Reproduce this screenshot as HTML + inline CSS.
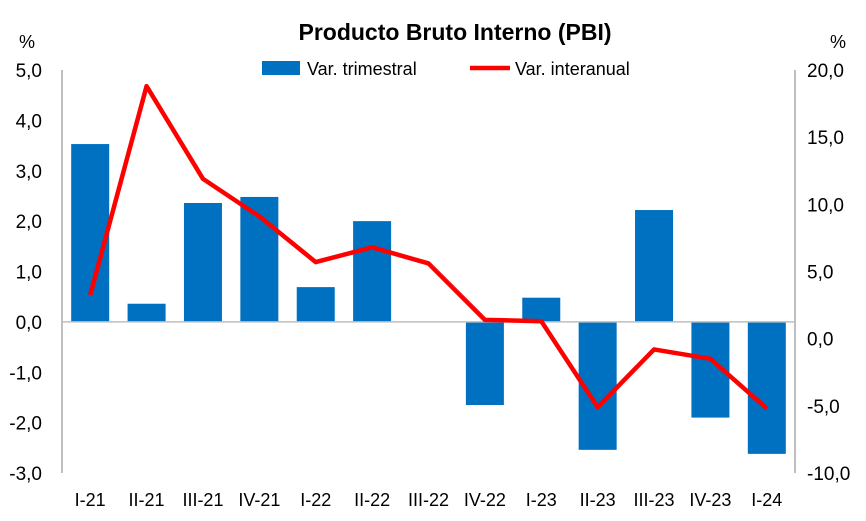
<!DOCTYPE html>
<html><head><meta charset="utf-8">
<style>
body{margin:0;background:#fff;}
svg{display:block;font-family:"Liberation Sans",Calibri,sans-serif;}
</style></head>
<body>
<svg id="chart" width="866" height="521" viewBox="0 0 866 521"></svg>
<script>
const categories=["I-21","II-21","III-21","IV-21","I-22","II-22","III-22","IV-22","I-23","II-23","III-23","IV-23","I-24"];
const quarterly=[3.53,0.36,2.36,2.48,0.69,2.0,0.0,-1.65,0.48,-2.54,2.22,-1.9,-2.62];
const annual=[3.25,18.8,11.9,9.1,5.7,6.8,5.6,1.4,1.3,-5.1,-0.8,-1.5,-5.2];
const leftTicks=["5,0","4,0","3,0","2,0","1,0","0,0","-1,0","-2,0","-3,0"];
const rightTicks=["20,0","15,0","10,0","5,0","0,0","-5,0","-10,0"];
const NS="http://www.w3.org/2000/svg";
const svg=document.getElementById("chart");
const X0=62,X1=795,YT=70,YB=473;
const yL=v=>YT+(5-v)/8*(YB-YT);
const yR=v=>YT+(20-v)/30*(YB-YT);
const bw=(X1-X0)/categories.length;
const xC=i=>X0+bw*(i+0.5);
function el(t,a,txt){const e=document.createElementNS(NS,t);for(const k in a)e.setAttribute(k,a[k]);if(txt!==undefined)e.textContent=txt;svg.appendChild(e);return e;}
let e;
e=el("text",{x:455,y:40,"text-anchor":"middle","font-size":"23","font-weight":"bold",fill:"#000"},"Producto Bruto Interno (PBI)");


e=el("text",{x:27,y:48,"text-anchor":"middle","font-size":"18",fill:"#000"},"%");


e=el("text",{x:838,y:48,"text-anchor":"middle","font-size":"18",fill:"#000"},"%");


// axes
e=el("line",{x1:X0,y1:YT,x2:X0,y2:YB,stroke:"#bfbfbf","stroke-width":2});


e=el("line",{x1:X1,y1:YT,x2:X1,y2:YB,stroke:"#bfbfbf","stroke-width":2});


leftTicks.forEach((t,i)=>{const v=5-i;e=el("text",{x:42,y:yL(v)+7,"text-anchor":"end","font-size":"19",fill:"#000"},t);

});
rightTicks.forEach((t,i)=>{const v=20-5*i;e=el("text",{x:807,y:yR(v)+7,"text-anchor":"start","font-size":"19",fill:"#000"},t);

});
// bars
quarterly.forEach((v,i)=>{const y0=yL(0),y=yL(v);e=el("rect",{x:xC(i)-19,y:Math.min(y,y0),width:38,height:Math.abs(y-y0),fill:"#0070c0"});

});
e=el("line",{x1:X0,y1:yL(0),x2:X1,y2:yL(0),stroke:"#bfbfbf","stroke-width":1.5});


// line
e=el("polyline",{points:annual.map((v,i)=>xC(i)+","+yR(v)).join(" "),fill:"none",stroke:"#ff0000","stroke-width":4.5,"stroke-linejoin":"round"});


// x labels
categories.forEach((c,i)=>{e=el("text",{x:xC(i),y:506,"text-anchor":"middle","font-size":"18",fill:"#000"},c);

});
// legend
e=el("rect",{x:262,y:61,width:38,height:14,fill:"#0070c0"});


e=el("text",{x:307,y:75,"font-size":"18",fill:"#000"},"Var. trimestral");


e=el("line",{x1:470,y1:68,x2:510,y2:68,stroke:"#ff0000","stroke-width":4.5});


e=el("text",{x:515,y:75,"font-size":"18",fill:"#000"},"Var. interanual");


</script>
</body></html>
